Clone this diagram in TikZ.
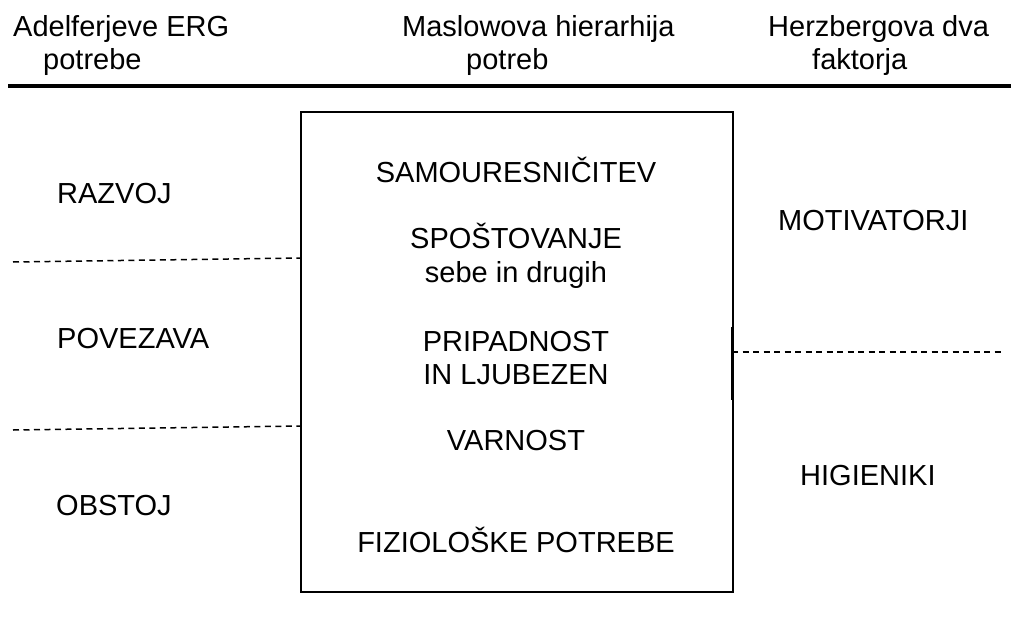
\documentclass[tikz,border=0pt]{standalone}
\usepackage{fontspec}
\setmainfont{Liberation Sans}
\begin{document}
\begin{tikzpicture}[x=1pt,y=-1pt,
  txt/.style={inner sep=0pt, font=\fontsize{29}{33}\selectfont},
  lbl/.style={txt, anchor=base west},
  ctr/.style={txt, anchor=base},
  sep/.style={line width=1.5pt, dash pattern=on 6pt off 4.5pt},
  rule/.style={line width=4pt},
  frame/.style={draw, line width=2pt, inner sep=0pt, anchor=north west}]
\useasboundingbox (0,0) rectangle (1011,626);
% header
\node[lbl] (h1a) at (13,37) {Adelferjeve ERG};
\node[lbl] (h1b) at (43,70) {potrebe};
\node[lbl] (h2a) at (402,37) {Maslowova hierarhija};
\node[lbl] (h2b) at (466,70) {potreb};
\node[lbl] (h3a) at (768,37) {Herzbergova dva};
\node[lbl] (h3b) at (812,70) {faktorja};
\coordinate (r1) at (8,86);
\coordinate (r2) at (1011,86);
\draw[rule] (r1) -- (r2);
% box
\node[frame, minimum width=432pt, minimum height=480pt] (box) at (300,111) {};
\node[ctr] (m1) at (516,182) {SAMOURESNIČITEV};
\node[ctr] (m2a) at (516,248) {SPOŠTOVANJE};
\node[ctr] (m2b) at (516,282) {sebe in drugih};
\node[ctr] (m3a) at (516,351) {PRIPADNOST};
\node[ctr] (m3b) at (516,384) {IN LJUBEZEN};
\node[ctr] (m4) at (516,450) {VARNOST};
\node[ctr] (m5) at (516,552) {FIZIOLOŠKE POTREBE};
% left
\node[lbl] (e1) at (57,203) {RAZVOJ};
\node[lbl] (e2) at (57,348) {POVEZAVA};
\node[lbl] (e3) at (56,515) {OBSTOJ};
\coordinate (a1) at (13,262);
\coordinate (a2) at (300,258);
\coordinate (b1) at (13,430);
\coordinate (b2) at (300,426);
\draw[sep] (a1) -- (a2);
\draw[sep] (b1) -- (b2);
% right
\node[lbl] (f1) at (778,230) {MOTIVATORJI};
\node[lbl] (f2) at (800,485) {HIGIENIKI};
\coordinate (t1) at (732,327);
\coordinate (t2) at (732,400);
\draw[line width=3pt] (t1) -- (t2);
\coordinate (c1) at (732,352);
\coordinate (c2) at (1005,352);
\draw[sep] (c1) -- (c2);
\end{tikzpicture}
\end{document}
